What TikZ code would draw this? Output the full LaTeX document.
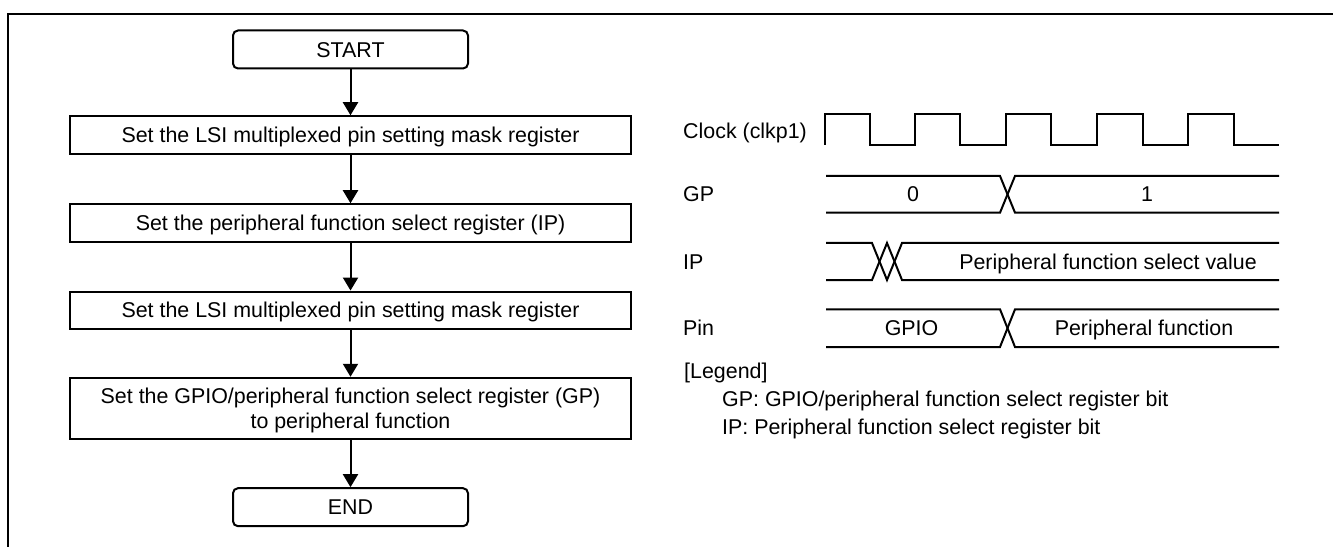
\documentclass[tikz,border=0pt]{standalone}
\usepackage{fontspec}
\setmainfont{Liberation Sans}
\usetikzlibrary{arrows.meta}
\begin{document}
\begin{tikzpicture}[x=1bp,y=-1bp,
  every node/.style={font=\fontsize{21.4bp}{25bp}\selectfont, inner sep=0pt, text height=15.3bp, text depth=0pt},
  flowbox/.style={draw, line width=2bp, minimum width=561bp, minimum height=37.5bp, align=center},
  termbox/.style={draw, line width=2bp, rounded corners=5bp, minimum width=235bp, minimum height=38bp},
  flowarrow/.style={line width=2bp, -{Triangle[width=15bp,length=13bp]}},
  wave/.style={line width=2bp},
  lbl/.style={anchor=west},
]
\useasboundingbox (0,0) rectangle (1333,547);
% frame
\draw[line width=2.3bp] (7.8,547) -- (7.8,14) -- (1333,14);

% flowchart
\node[termbox] (start) at (350.5,49.5) {START};
\node[flowbox] (b1) at (350.5,135) {Set the LSI multiplexed pin setting mask register};
\node[flowbox] (b2) at (350.5,223) {Set the peripheral function select register (IP)};
\node[flowbox] (b3) at (350.5,310.3) {Set the LSI multiplexed pin setting mask register};
\node[flowbox, minimum height=61.5bp, text height=40.3bp] (b4) at (350.5,408.5) {Set the GPIO/peripheral function select register (GP)\\to peripheral function};
\node[termbox] (end) at (350.5,507.2) {END};
\draw[flowarrow] (start) -- (b1);
\draw[flowarrow] (b1) -- (b2);
\draw[flowarrow] (b2) -- (b3);
\draw[flowarrow] (b3) -- (b4);
\draw[flowarrow] (b4) -- (end);

% timing labels
\node[lbl] (clkl) at (683,130.5) {Clock (clkp1)};
\node[lbl] (gpl) at (683,194.3) {GP};
\node[lbl] (ipl) at (683,261.5) {IP};
\node[lbl] (pinl) at (683,328) {Pin};

% clock
\draw[wave] (824.5,145) -- (824.5,114) -- (870.3,114) -- (870.3,145) -- (915.4,145) -- (915.4,114)
  -- (960.4,114) -- (960.4,145) -- (1005.5,145) -- (1005.5,114) -- (1051.4,114) -- (1051.4,145)
  -- (1096.9,145) -- (1096.9,114) -- (1142.8,114) -- (1142.8,145) -- (1187.9,145) -- (1187.9,114)
  -- (1234.2,114) -- (1234.2,145) -- (1279,145);

% GP bus
\draw[wave] (826,176) -- (1000,176) -- (1015,212.7) -- (1279,212.7);
\draw[wave] (826,212.7) -- (1000,212.7) -- (1015,176) -- (1279,176);
\node (gp0) at (913,194.3) {0};
\node (gp1) at (1147,194.3) {1};

% IP bus
\draw[wave] (826,243) -- (872,243) -- (887,280) -- (902,243) -- (1279,243);
\draw[wave] (826,280) -- (872,280) -- (887,243) -- (902,280) -- (1279,280);
\node (ipv) at (1108,261.5) {Peripheral function select value};

% Pin bus
\draw[wave] (826,309.3) -- (1000,309.3) -- (1015,347) -- (1279,347);
\draw[wave] (826,347) -- (1000,347) -- (1015,309.3) -- (1279,309.3);
\node (pgpio) at (911.5,328) {GPIO};
\node (ppf) at (1144,328) {Peripheral function};

% legend
\node[lbl] (leg) at (684,370.7) {[Legend]};
\node[lbl] (leggp) at (722,399) {GP: GPIO/peripheral function select register bit};
\node[lbl] (legip) at (722,427.3) {IP: Peripheral function select register bit};
\end{tikzpicture}
\end{document}
